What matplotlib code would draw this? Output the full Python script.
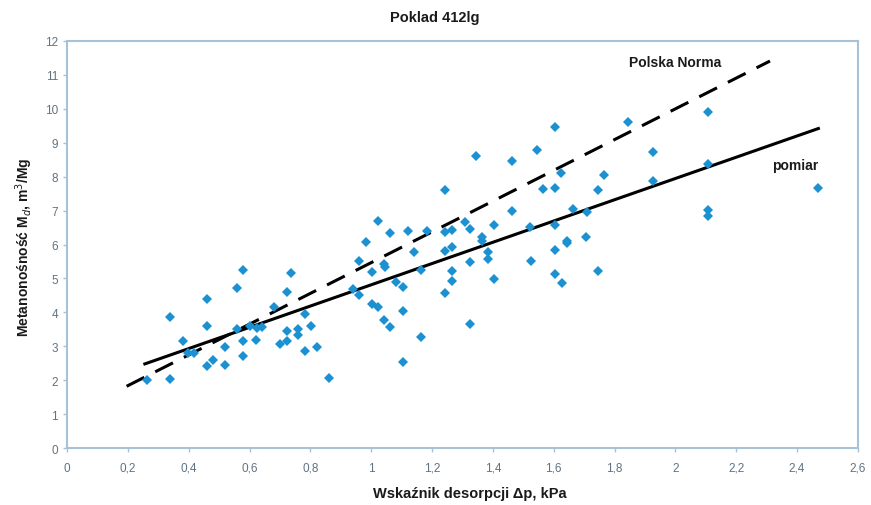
import matplotlib.pyplot as plt
import numpy as np

plt.rcParams['font.family'] = ['Liberation Sans', 'DejaVu Sans']

# measured points: desorption index (kPa) vs methane content (m3/Mg)
dp = [0.264, 0.339, 0.339, 0.380, 0.399, 0.418, 0.459, 0.459, 0.459, 0.480,
      0.519, 0.519, 0.560, 0.560, 0.579, 0.579, 0.579, 0.600, 0.621, 0.624,
      0.640, 0.680, 0.700, 0.722, 0.722, 0.722, 0.735, 0.760, 0.760, 0.781,
      0.781, 0.802, 0.821, 0.862, 0.939, 0.961, 0.961, 0.982, 1.002, 1.002,
      1.021, 1.023, 1.042, 1.045, 1.042, 1.062, 1.062, 1.082, 1.104, 1.104,
      1.104, 1.122, 1.142, 1.164, 1.164, 1.182, 1.243, 1.243, 1.243, 1.243,
      1.265, 1.265, 1.265, 1.265, 1.308, 1.325, 1.325, 1.325, 1.343, 1.363,
      1.363, 1.385, 1.385, 1.404, 1.404, 1.464, 1.464, 1.522, 1.524, 1.544,
      1.564, 1.604, 1.604, 1.604, 1.604, 1.604, 1.624, 1.626, 1.645, 1.645,
      1.664, 1.706, 1.708, 1.745, 1.745, 1.765, 1.845, 1.925, 1.925, 2.108,
      2.108, 2.108, 2.108, 2.470]
md = [2.00, 2.03, 3.85, 3.15, 2.79, 2.79, 4.39, 3.60, 2.41, 2.59,
      2.97, 2.45, 4.72, 3.51, 5.26, 3.15, 2.72, 3.60, 3.19, 3.53,
      3.57, 4.16, 3.07, 4.61, 3.46, 3.16, 5.16, 3.51, 3.33, 3.95,
      2.85, 3.61, 2.97, 2.05, 4.69, 5.50, 4.52, 6.06, 5.20, 4.25,
      6.70, 4.15, 5.42, 5.33, 3.77, 6.34, 3.58, 4.89, 4.76, 4.05,
      2.55, 6.39, 5.79, 5.26, 3.26, 6.39, 7.62, 6.38, 5.82, 4.57,
      6.43, 5.93, 5.23, 4.91, 6.65, 6.46, 5.47, 3.66, 8.62, 6.21,
      6.11, 5.77, 5.57, 6.57, 4.98, 8.45, 6.98, 6.52, 5.52, 8.79,
      7.64, 9.47, 7.66, 6.57, 5.84, 5.13, 8.11, 4.86, 6.11, 6.04,
      7.05, 6.21, 6.95, 7.62, 5.23, 8.06, 9.62, 8.73, 7.88, 9.91,
      8.37, 7.02, 6.83, 7.66]

# fitted line (pomiar) and Polish standard line, endpoints
fit_x = [0.256, 2.47]
fit_y = [2.48, 9.42]
norm_x = [0.196, 2.311]
norm_y = [1.82, 11.41]

xticks = np.arange(0, 2.61, 0.2)
xtick_labels = ['0', '0,2', '0,4', '0,6', '0,8', '1', '1,2', '1,4', '1,6',
                '1,8', '2', '2,2', '2,4', '2,6']

fig = plt.figure(figsize=(8.71, 5.06), dpi=100)
ax = fig.add_axes([0.0769, 0.1126, 0.9081, 0.8044])

ax.plot(dp, md, 'D', color='#1b91d2', markersize=5.3, markeredgewidth=0, zorder=3)
ax.plot(fit_x, fit_y, color='black', linewidth=2.2, zorder=2)
ax.plot(norm_x, norm_y, color='black', linewidth=2.2, dashes=(6.5, 4), zorder=2)

ax.text(2.0, 11.38, 'Polska Norma', fontsize=10, fontweight='bold',
        ha='center', va='center', color='#1a1a1a')
ax.text(2.393, 8.34, 'pomiar', fontsize=10, fontweight='bold',
        ha='center', va='center', color='#1a1a1a')

ax.set_xlim(0, 2.6)
ax.set_ylim(0, 12)
ax.set_xticks(xticks)
ax.set_xticklabels(xtick_labels)
ax.set_yticks(range(0, 13))

frame_col = '#a7c2d6'
for sp in ax.spines.values():
    sp.set_color(frame_col)
    sp.set_linewidth(1.5)
ax.tick_params(axis='both', colors=frame_col, labelcolor='#607283',
               labelsize=8.5, length=3, width=1)
ax.tick_params(axis='x', pad=7)

fig.text(435 / 871, 1 - 18 / 506, 'Poklad 412lg', fontsize=10.5,
         fontweight='bold', ha='center', va='center', color='#1a1a1a')
fig.text(470 / 871, 1 - 494 / 506, 'Wskaźnik desorpcji Δp, kPa', fontsize=10.5,
         fontweight='bold', ha='center', va='center', color='#1a1a1a')
fig.text(24 / 871, 1 - 247 / 506, 'Metanonośność M$_d$, m$^3$/Mg', fontsize=10,
         fontweight='bold', ha='center', va='center', rotation=90, color='#1a1a1a')

fig.savefig('out.png', dpi=100)
